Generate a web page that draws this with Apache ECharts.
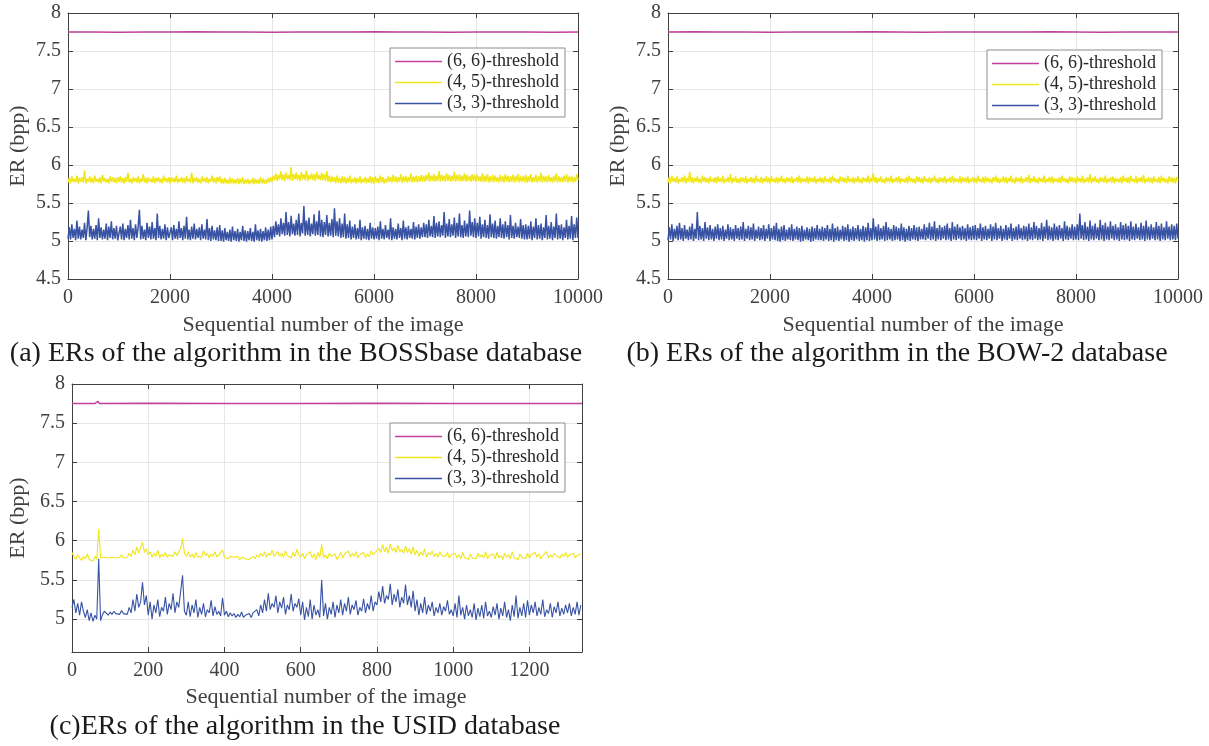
<!DOCTYPE html>
<html><head><meta charset="utf-8">
<script src="https://cdn.jsdelivr.net/npm/echarts@6/dist/echarts.min.js"></script>
<style>html,body{margin:0;padding:0;background:#fff}#c{width:1209px;height:746px}</style>
</head><body><div id="c"></div>
<script>
// ---------------- data ----------------
const legendNames = ['(6, 6)-threshold', '(4, 5)-threshold', '(3, 3)-threshold'];
const captions = ['(a) ERs of the algorithm in the BOSSbase database', '(b) ERs of the algorithm in the BOW-2 database', '(c)ERs of the algorithm in the USID database'];
const xTitle = 'Sequential number of the image';
const yTitle = 'ER (bpp)';

// (a) BOSSbase, 10000 images, sampled every 25 images
const stepAB = 25;
const pinkStepAB = 500;
const pinkA = [7.75,7.75,7.748,7.75,7.75,7.752,7.75,7.75,7.748,7.75,7.75,7.75,7.752,7.75,7.75,7.748,7.75,7.75,7.75,7.748,7.75];
const yellowA = [
5.77,5.83,5.76,5.85,5.78,5.82,5.77,5.86,5.76,5.83,5.78,5.84,5.77,5.93,5.76,5.82,5.78,5.85,5.77,5.83,5.76,5.86,5.78,5.82,5.77,5.84,5.76,5.87,5.78,5.83,5.77,5.82,5.76,5.85,5.78,5.84,5.77,5.83,5.76,5.84,
5.78,5.85,5.77,5.83,5.76,5.84,5.78,5.90,5.77,5.82,5.76,5.84,5.78,5.83,5.77,5.85,5.76,5.82,5.78,5.88,5.77,5.83,5.76,5.84,5.78,5.82,5.77,5.85,5.76,5.83,5.78,5.84,5.77,5.82,5.76,5.86,5.78,5.83,5.77,5.84,
5.76,5.84,5.78,5.83,5.77,5.86,5.76,5.82,5.78,5.84,5.77,5.83,5.76,5.85,5.78,5.82,5.77,5.90,5.76,5.83,5.78,5.84,5.77,5.82,5.76,5.85,5.78,5.83,5.77,5.84,5.76,5.82,5.78,5.86,5.77,5.83,5.76,5.84,5.78,5.85,
5.76,5.82,5.75,5.83,5.76,5.81,5.75,5.84,5.76,5.82,5.75,5.81,5.76,5.83,5.75,5.82,5.76,5.84,5.75,5.81,5.76,5.82,5.75,5.80,5.76,5.83,5.75,5.82,5.76,5.81,5.75,5.84,5.76,5.82,5.75,5.81,5.76,5.83,5.77,5.84,
5.78,5.86,5.80,5.89,5.79,5.87,5.81,5.92,5.80,5.88,5.79,5.90,5.81,5.87,5.80,5.97,5.79,5.88,5.81,5.90,5.80,5.87,5.79,5.91,5.81,5.88,5.80,5.93,5.79,5.87,5.81,5.89,5.80,5.88,5.79,5.91,5.81,5.87,5.80,5.90,
5.80,5.88,5.79,5.92,5.78,5.86,5.77,5.85,5.78,5.84,5.76,5.86,5.77,5.83,5.76,5.85,5.77,5.84,5.76,5.83,5.77,5.86,5.76,5.82,5.77,5.84,5.76,5.83,5.77,5.85,5.76,5.82,5.77,5.84,5.76,5.83,5.77,5.85,5.76,5.84,
5.76,5.85,5.77,5.83,5.76,5.86,5.77,5.84,5.76,5.82,5.77,5.85,5.78,5.84,5.77,5.87,5.78,5.85,5.77,5.84,5.78,5.88,5.77,5.85,5.78,5.86,5.77,5.84,5.78,5.89,5.77,5.85,5.78,5.86,5.77,5.85,5.78,5.87,5.78,5.86,
5.78,5.87,5.79,5.90,5.78,5.86,5.79,5.88,5.78,5.86,5.79,5.92,5.78,5.87,5.79,5.86,5.78,5.89,5.79,5.87,5.78,5.86,5.79,5.91,5.78,5.87,5.79,5.88,5.78,5.86,5.79,5.89,5.78,5.87,5.79,5.86,5.78,5.88,5.79,5.87,
5.78,5.87,5.79,5.85,5.78,5.89,5.77,5.86,5.78,5.88,5.77,5.85,5.78,5.87,5.77,5.86,5.78,5.84,5.77,5.87,5.78,5.85,5.77,5.88,5.78,5.86,5.77,5.85,5.78,5.87,5.77,5.86,5.78,5.88,5.77,5.85,5.78,5.86,5.77,5.87,
5.77,5.85,5.78,5.88,5.77,5.84,5.78,5.87,5.77,5.85,5.78,5.90,5.77,5.86,5.78,5.85,5.77,5.87,5.78,5.84,5.77,5.86,5.78,5.89,5.77,5.85,5.78,5.84,5.77,5.86,5.78,5.88,5.77,5.85,5.78,5.86,5.77,5.84,5.78,5.88,
5.80];
const blueA = [
5.03,5.18,5.02,5.22,5.04,5.16,5.01,5.27,5.03,5.19,5.02,5.15,5.04,5.24,5.01,5.17,5.40,5.05,5.20,5.02,5.16,5.03,5.21,5.01,5.30,5.04,5.18,5.02,5.15,5.03,5.23,5.01,5.19,5.04,5.26,5.02,5.17,5.03,5.20,5.01,
5.03,5.19,5.02,5.23,5.01,5.16,5.04,5.21,5.02,5.28,5.03,5.17,5.01,5.22,5.04,5.18,5.41,5.02,5.20,5.03,5.15,5.01,5.24,5.04,5.19,5.02,5.25,5.03,5.17,5.01,5.36,5.04,5.20,5.02,5.16,5.03,5.22,5.01,5.18,5.04,
5.02,5.18,5.01,5.21,5.03,5.16,5.02,5.26,5.04,5.17,5.01,5.20,5.03,5.32,5.02,5.15,5.01,5.19,5.03,5.23,5.02,5.16,5.04,5.18,5.01,5.22,5.03,5.15,5.02,5.29,5.01,5.17,5.00,5.20,5.02,5.14,5.01,5.18,5.00,5.21,
5.00,5.14,4.99,5.17,5.01,5.12,5.00,5.15,4.99,5.19,5.01,5.13,5.00,5.16,4.99,5.12,5.01,5.20,5.00,5.14,4.99,5.13,5.01,5.17,5.00,5.12,4.99,5.22,5.01,5.14,5.00,5.16,4.99,5.13,5.01,5.18,5.00,5.15,5.01,5.19,
5.02,5.20,5.05,5.26,5.08,5.22,5.06,5.30,5.09,5.24,5.07,5.38,5.08,5.25,5.06,5.33,5.09,5.23,5.07,5.28,5.08,5.36,5.06,5.24,5.10,5.46,5.07,5.27,5.08,5.31,5.06,5.23,5.09,5.35,5.07,5.26,5.08,5.40,5.06,5.28,
5.05,5.25,5.08,5.34,5.06,5.24,5.07,5.29,5.05,5.43,5.07,5.26,5.06,5.30,5.04,5.23,5.05,5.36,5.03,5.22,5.04,5.27,5.02,5.19,5.04,5.22,5.02,5.17,5.03,5.28,5.01,5.18,5.03,5.20,5.02,5.16,5.01,5.24,5.03,5.18,
5.02,5.17,5.03,5.19,5.01,5.26,5.03,5.16,5.02,5.21,5.04,5.15,5.02,5.30,5.01,5.18,5.03,5.16,5.02,5.23,5.04,5.17,5.01,5.27,5.03,5.18,5.02,5.20,5.04,5.16,5.03,5.25,5.02,5.19,5.04,5.22,5.03,5.18,5.05,5.24,
5.05,5.22,5.04,5.28,5.06,5.20,5.05,5.33,5.04,5.24,5.06,5.26,5.05,5.21,5.07,5.38,5.04,5.23,5.06,5.29,5.05,5.22,5.07,5.31,5.04,5.24,5.06,5.36,5.05,5.21,5.04,5.27,5.06,5.23,5.05,5.40,5.07,5.25,5.05,5.30,
5.04,5.24,5.06,5.32,5.03,5.22,5.05,5.28,5.04,5.21,5.03,5.35,5.05,5.23,5.04,5.27,5.03,5.20,5.05,5.30,5.04,5.22,5.03,5.26,5.05,5.21,5.02,5.34,5.04,5.20,5.03,5.24,5.05,5.19,5.04,5.29,5.03,5.21,5.02,5.22,
5.02,5.20,5.03,5.26,5.01,5.19,5.04,5.30,5.02,5.21,5.03,5.23,5.01,5.18,5.04,5.34,5.02,5.20,5.03,5.25,5.01,5.19,5.04,5.36,5.02,5.21,5.03,5.22,5.01,5.18,5.04,5.28,5.02,5.20,5.03,5.33,5.01,5.22,5.04,5.31,
5.04];

// (b) BOW-2, 10000 images, sampled every 25 images
const pinkB = [7.75,7.752,7.75,7.75,7.748,7.75,7.75,7.75,7.752,7.75,7.748,7.75,7.75,7.75,7.75,7.752,7.75,7.748,7.75,7.75,7.75];
const yellowB = [
5.77,5.84,5.76,5.86,5.78,5.83,5.77,5.85,5.76,5.82,5.78,5.84,5.77,5.86,5.76,5.83,5.78,5.91,5.77,5.84,5.76,5.83,5.78,5.85,5.77,5.82,5.76,5.86,5.78,5.84,5.77,5.83,5.76,5.85,5.78,5.82,5.77,5.84,5.76,5.85,
5.78,5.83,5.77,5.86,5.76,5.82,5.78,5.84,5.77,5.88,5.76,5.83,5.78,5.85,5.77,5.82,5.76,5.84,5.78,5.83,5.77,5.85,5.76,5.82,5.78,5.84,5.77,5.83,5.76,5.86,5.78,5.82,5.77,5.84,5.76,5.83,5.78,5.85,5.77,5.83,
5.76,5.85,5.78,5.82,5.77,5.84,5.76,5.83,5.78,5.86,5.77,5.82,5.76,5.84,5.78,5.83,5.77,5.85,5.76,5.82,5.78,5.84,5.77,5.86,5.76,5.83,5.78,5.82,5.77,5.85,5.76,5.84,5.78,5.83,5.77,5.85,5.76,5.82,5.78,5.84,
5.77,5.83,5.76,5.85,5.78,5.82,5.77,5.84,5.76,5.86,5.78,5.83,5.77,5.82,5.76,5.85,5.78,5.84,5.77,5.83,5.76,5.86,5.78,5.82,5.77,5.84,5.76,5.83,5.78,5.85,5.77,5.82,5.76,5.84,5.78,5.83,5.77,5.86,5.76,5.83,
5.78,5.89,5.77,5.84,5.76,5.83,5.78,5.85,5.77,5.82,5.76,5.84,5.78,5.83,5.77,5.86,5.76,5.82,5.78,5.84,5.77,5.85,5.76,5.83,5.78,5.82,5.77,5.84,5.76,5.86,5.78,5.83,5.77,5.82,5.76,5.85,5.78,5.84,5.77,5.83,
5.76,5.85,5.78,5.82,5.77,5.84,5.76,5.83,5.78,5.86,5.77,5.82,5.76,5.84,5.78,5.83,5.77,5.85,5.76,5.82,5.78,5.84,5.77,5.86,5.76,5.83,5.78,5.82,5.77,5.85,5.76,5.84,5.78,5.83,5.77,5.85,5.76,5.82,5.78,5.84,
5.77,5.83,5.76,5.86,5.78,5.82,5.77,5.84,5.76,5.85,5.78,5.83,5.77,5.82,5.76,5.84,5.78,5.86,5.77,5.83,5.76,5.82,5.78,5.85,5.77,5.84,5.76,5.83,5.78,5.86,5.77,5.82,5.76,5.84,5.78,5.83,5.77,5.85,5.76,5.82,
5.78,5.84,5.77,5.87,5.76,5.83,5.78,5.85,5.77,5.82,5.76,5.84,5.78,5.83,5.77,5.86,5.76,5.82,5.78,5.84,5.77,5.85,5.76,5.83,5.78,5.82,5.77,5.84,5.76,5.86,5.78,5.83,5.77,5.82,5.76,5.85,5.78,5.84,5.77,5.83,
5.76,5.85,5.78,5.83,5.77,5.86,5.76,5.82,5.78,5.84,5.77,5.88,5.76,5.83,5.78,5.85,5.77,5.82,5.76,5.84,5.78,5.83,5.77,5.86,5.76,5.82,5.78,5.84,5.77,5.85,5.76,5.83,5.78,5.82,5.77,5.84,5.76,5.86,5.78,5.83,
5.77,5.84,5.76,5.86,5.78,5.82,5.77,5.85,5.76,5.83,5.78,5.84,5.77,5.87,5.76,5.82,5.78,5.84,5.77,5.83,5.76,5.85,5.78,5.82,5.77,5.84,5.76,5.86,5.78,5.83,5.77,5.82,5.76,5.85,5.78,5.84,5.77,5.83,5.76,5.84,
5.80];
const blueB = [
5.01,5.18,5.02,5.22,5.00,5.16,5.03,5.20,5.01,5.24,5.02,5.17,5.00,5.21,5.03,5.15,5.01,5.19,5.02,5.23,5.00,5.16,5.03,5.38,5.01,5.20,5.02,5.17,5.00,5.25,5.03,5.18,5.01,5.21,5.02,5.16,5.00,5.19,5.03,5.22,
5.01,5.17,5.02,5.20,5.00,5.15,5.03,5.22,5.01,5.18,5.02,5.16,5.00,5.21,5.03,5.17,5.01,5.19,5.02,5.25,5.00,5.16,5.03,5.20,5.01,5.18,5.02,5.23,5.00,5.15,5.03,5.19,5.01,5.17,5.02,5.21,5.00,5.16,5.03,5.22,
5.00,5.17,5.02,5.20,5.01,5.24,5.00,5.16,4.99,5.19,5.01,5.21,5.00,5.15,5.02,5.18,5.01,5.22,5.00,5.16,5.02,5.19,5.01,5.17,4.99,5.20,5.00,5.15,5.02,5.18,5.01,5.16,4.99,5.19,5.00,5.17,5.02,5.21,5.01,5.16,
5.01,5.19,5.00,5.17,5.02,5.21,5.00,5.16,5.01,5.23,4.99,5.17,5.01,5.19,5.00,5.15,5.02,5.20,5.00,5.18,5.01,5.22,4.99,5.16,5.01,5.19,5.00,5.17,5.02,5.21,5.00,5.16,5.01,5.20,4.99,5.18,5.01,5.24,5.00,5.17,
5.01,5.30,5.02,5.19,5.00,5.22,5.01,5.17,5.02,5.20,5.00,5.25,5.01,5.18,5.02,5.16,5.00,5.21,5.01,5.19,5.02,5.17,5.00,5.23,5.01,5.18,4.99,5.16,5.01,5.20,5.00,5.17,5.02,5.21,5.01,5.18,5.00,5.19,5.02,5.16,
5.02,5.22,5.01,5.18,5.03,5.24,5.01,5.19,5.02,5.26,5.00,5.17,5.02,5.21,5.01,5.18,5.03,5.20,5.01,5.23,5.02,5.17,5.00,5.25,5.02,5.19,5.01,5.22,5.03,5.18,5.01,5.20,5.02,5.17,5.00,5.22,5.02,5.18,5.01,5.20,
5.02,5.21,5.01,5.17,5.03,5.23,5.00,5.18,5.02,5.20,5.01,5.16,5.03,5.22,5.00,5.19,5.02,5.24,5.01,5.17,5.03,5.20,5.00,5.16,5.02,5.21,5.01,5.18,5.03,5.23,5.00,5.17,5.02,5.19,5.01,5.22,5.03,5.17,5.01,5.20,
5.02,5.19,5.00,5.23,5.02,5.18,5.01,5.25,5.03,5.20,5.01,5.17,5.02,5.24,5.00,5.19,5.03,5.28,5.01,5.20,5.02,5.18,5.00,5.23,5.02,5.19,5.01,5.21,5.03,5.17,5.00,5.26,5.02,5.20,5.01,5.18,5.03,5.22,5.01,5.19,
5.02,5.22,5.01,5.36,5.03,5.21,5.01,5.25,5.02,5.19,5.00,5.27,5.02,5.20,5.01,5.23,5.03,5.18,5.01,5.28,5.02,5.21,5.00,5.24,5.02,5.19,5.01,5.26,5.03,5.20,5.01,5.22,5.02,5.18,5.00,5.25,5.02,5.21,5.01,5.23,
5.02,5.20,5.00,5.26,5.02,5.19,5.01,5.23,5.03,5.18,5.01,5.24,5.02,5.20,5.00,5.27,5.02,5.19,5.01,5.22,5.03,5.18,5.01,5.25,5.02,5.20,5.00,5.23,5.02,5.18,5.01,5.26,5.03,5.19,5.01,5.22,5.02,5.20,5.01,5.23,
5.03];

// (c) USID, 1338 images, sampled every 5 images
const stepC = 5;
const nImagesC = 1338;
const pinkC = [[0,7.75],[60,7.75],[68,7.78],[72,7.75],[200,7.755],[400,7.75],[600,7.75],[800,7.755],[1000,7.75],[1200,7.75],[1338,7.75]];
const yellowC = [
5.85,5.80,5.76,5.82,5.78,5.75,5.80,5.77,5.83,5.76,5.78,5.74,5.80,5.76,6.15,5.78,5.80,5.79,5.81,5.78,
5.80,5.79,5.81,5.78,5.80,5.79,5.82,5.78,5.80,5.79,5.84,5.80,5.88,5.82,5.92,5.84,5.86,5.98,5.85,5.90,
5.82,5.86,5.79,5.84,5.80,5.88,5.78,5.83,5.80,5.85,5.79,5.82,5.84,5.80,5.86,5.81,5.83,5.90,6.03,5.84,
5.80,5.86,5.79,5.83,5.78,5.85,5.80,5.82,5.79,5.87,5.81,5.84,5.78,5.83,5.80,5.86,5.79,5.82,5.80,5.88,
5.79,5.81,5.77,5.80,5.78,5.79,5.77,5.80,5.76,5.79,5.78,5.77,5.79,5.76,5.78,5.80,5.77,5.82,5.79,5.84,
5.80,5.86,5.79,5.84,5.81,5.88,5.80,5.83,5.86,5.80,5.84,5.79,5.87,5.81,5.83,5.78,5.85,5.80,5.89,5.82,
5.79,5.84,5.77,5.82,5.80,5.86,5.78,5.83,5.76,5.85,5.79,5.95,5.78,5.82,5.77,5.84,5.80,5.78,5.83,5.76,
5.80,5.85,5.78,5.83,5.81,5.87,5.79,5.84,5.80,5.86,5.78,5.82,5.81,5.85,5.79,5.83,5.80,5.87,5.82,5.85,
5.83,5.90,5.85,5.95,5.86,5.92,5.84,5.96,5.87,5.91,5.85,5.94,5.86,5.89,5.84,5.93,5.85,5.90,5.83,5.92,
5.82,5.88,5.80,5.86,5.81,5.90,5.79,5.85,5.82,5.87,5.80,5.84,5.79,5.86,5.81,5.83,5.80,5.85,5.78,5.82,
5.80,5.84,5.78,5.82,5.77,5.85,5.79,5.81,5.76,5.83,5.78,5.80,5.77,5.84,5.79,5.82,5.78,5.86,5.77,5.81,
5.79,5.83,5.77,5.85,5.78,5.81,5.76,5.84,5.79,5.82,5.77,5.86,5.78,5.80,5.76,5.83,5.79,5.81,5.77,5.84,
5.78,5.82,5.80,5.85,5.79,5.83,5.77,5.81,5.80,5.86,5.78,5.82,5.79,5.84,5.81,5.80,5.78,5.83,5.80,5.85,
5.79,5.82,5.80,5.84,5.78,5.81,5.80,5.83];
const blueC = [
5.15,5.25,5.08,5.20,5.05,5.22,5.10,5.02,5.12,4.98,5.08,4.97,5.05,5.00,5.77,4.98,5.06,5.10,5.08,5.05,
5.09,5.06,5.10,5.07,5.08,5.06,5.11,5.07,5.09,5.06,5.15,5.08,5.25,5.10,5.32,5.15,5.22,5.47,5.18,5.30,
5.05,5.22,5.00,5.18,5.08,5.25,5.03,5.15,5.10,5.28,5.06,5.20,5.12,5.33,5.08,5.22,5.15,5.35,5.56,5.10,
5.05,5.22,5.03,5.18,5.08,5.25,5.02,5.15,5.06,5.20,5.03,5.12,5.08,5.24,5.04,5.16,5.06,5.10,5.04,5.27,
5.05,5.10,5.03,5.08,5.04,5.07,5.02,5.06,5.03,5.09,5.02,5.05,5.04,5.07,5.02,5.08,5.06,5.12,5.04,5.18,
5.08,5.25,5.10,5.33,5.12,5.20,5.15,5.30,5.08,5.22,5.14,5.28,5.06,5.18,5.12,5.32,5.10,5.20,5.15,5.26,
5.05,5.22,4.99,5.15,5.03,5.25,5.00,5.18,5.05,5.12,5.02,5.50,5.04,5.20,5.00,5.15,5.06,5.22,5.02,5.18,
5.08,5.25,5.05,5.20,5.10,5.28,5.06,5.18,5.12,5.24,5.05,5.15,5.10,5.26,5.08,5.20,5.12,5.30,5.10,5.22,
5.18,5.35,5.22,5.42,5.20,5.30,5.25,5.45,5.18,5.32,5.22,5.38,5.15,5.28,5.20,5.44,5.18,5.30,5.15,5.36,
5.10,5.25,5.05,5.20,5.08,5.28,5.06,5.18,5.10,5.22,5.04,5.15,5.08,5.20,5.05,5.16,5.10,5.24,5.06,5.12,
5.04,5.20,5.02,5.30,5.05,5.15,5.00,5.18,5.04,5.12,5.02,5.20,4.99,5.14,5.03,5.18,5.01,5.22,5.04,5.10,
5.02,5.16,5.05,5.20,5.00,5.14,5.04,5.22,5.02,5.12,4.98,5.18,5.03,5.30,5.01,5.15,5.04,5.20,5.02,5.24,
5.05,5.18,5.08,5.22,5.04,5.15,5.06,5.25,5.03,5.12,5.07,5.20,5.02,5.16,5.08,5.22,5.04,5.14,5.06,5.18,
5.08,5.20,5.04,5.15,5.06,5.22,5.05,5.18];

// ---------------- chart ----------------
const PINK = '#c0409a', YELLOW = '#f0e619', BLUE = '#3852a4';
const AXC = '#404040', GRIDC = '#e6e6e6';
const FONT = '"Liberation Serif", "Times New Roman", serif';

const panels = [
  {grid:{left:68, top:13, width:510, height:266}, xMax:10000, xInt:2000, yMin:4.5, yInt:0.5, bandW:1.5,
   pink: pinkA.map((v,i)=>[i*pinkStepAB, v]), yellow: yellowA.map((v,i)=>[i*stepAB, v]), blue: blueA.map((v,i)=>[i*stepAB, v]),
   legend:{left:390, top:48}},
  {grid:{left:668, top:13, width:510, height:266}, xMax:10000, xInt:2000, yMin:4.5, yInt:0.5, bandW:1.5,
   pink: pinkB.map((v,i)=>[i*pinkStepAB, v]), yellow: yellowB.map((v,i)=>[i*stepAB, v]), blue: blueB.map((v,i)=>[i*stepAB, v]),
   legend:{left:987, top:50}},
  {grid:{left:72, top:384, width:510, height:268}, xMax:nImagesC, xInt:200, yMin:4.58, yInt:null, bandW:1.1,
   pink: pinkC, yellow: yellowC.map((v,i)=>[i*stepC, v]), blue: blueC.map((v,i)=>[i*stepC, v]),
   legend:{left:390, top:423}}
];

const grids = [], xAxes = [], yAxes = [], series = [], legends = [];
const tickLabel = {fontFamily: FONT, fontSize: 20, color: AXC};
panels.forEach((p, k) => {
  grids.push(Object.assign({containLabel:false}, p.grid));
  const xBase = {gridIndex:k, type:'value', min:0, max:p.xMax, interval:p.xInt};
  xAxes.push(Object.assign({}, xBase, {position:'bottom',
    axisLine:{show:true, onZero:false, lineStyle:{color:AXC, width:1}},
    axisTick:{show:true, inside:true, length:5, lineStyle:{color:AXC}},
    axisLabel:Object.assign({margin:9, showMaxLabel: p.xMax % p.xInt === 0, formatter: v => String(v)}, tickLabel),
    splitLine:{show:true, lineStyle:{color:GRIDC, width:1}}}));
  xAxes.push(Object.assign({}, xBase, {position:'top',
    axisLine:{show:true, onZero:false, lineStyle:{color:AXC, width:1}},
    axisTick:{show:true, inside:true, length:5, lineStyle:{color:AXC}},
    axisLabel:{show:false}, splitLine:{show:false}}));
  const yBase = {gridIndex:k, type:'value', min:p.yMin, max:8};
  if (p.yInt) yBase.interval = p.yInt; else yBase.splitNumber = 7;
  yAxes.push(Object.assign({}, yBase, {position:'left',
    axisLine:{show:true, onZero:false, lineStyle:{color:AXC, width:1}},
    axisTick:{show:true, inside:true, length:5, lineStyle:{color:AXC}},
    axisLabel:Object.assign({margin:7, showMinLabel: !!p.yInt, formatter: v => String(v)}, tickLabel),
    splitLine:{show:true, lineStyle:{color:GRIDC, width:1}}}));
  yAxes.push(Object.assign({}, yBase, {position:'right',
    axisLine:{show:true, onZero:false, lineStyle:{color:AXC, width:1}},
    axisTick:{show:true, inside:true, length:5, lineStyle:{color:AXC}},
    axisLabel:{show:false}, splitLine:{show:false}}));
  const common = {type:'line', xAxisIndex:2*k, yAxisIndex:2*k, showSymbol:false, symbol:'none', sampling:null, animation:false, silent:true};
  series.push(Object.assign({}, common, {name:legendNames[0], data:p.pink, z:3, itemStyle:{color:PINK}, lineStyle:{color:PINK, width:1.5}}));
  series.push(Object.assign({}, common, {name:legendNames[1], data:p.yellow, z:3, itemStyle:{color:YELLOW}, lineStyle:{color:YELLOW, width:p.bandW}}));
  series.push(Object.assign({}, common, {name:legendNames[2], data:p.blue, z:3, itemStyle:{color:BLUE}, lineStyle:{color:BLUE, width:p.bandW}}));
  legends.push({left:p.legend.left, top:p.legend.top, orient:'vertical', icon:'rect', itemWidth:47, itemHeight:1.5,
    itemGap:0, padding:[3,6,3,5], borderColor:'#8c8c8c', borderWidth:1, backgroundColor:'#ffffff', z:10,
    selectedMode:false, data:legendNames,
    textStyle:{fontFamily:FONT, fontSize:18, color:'#262626', lineHeight:21}});
});

const graphics = [];
function txt(x, y, text, size, color, rot) {
  graphics.push({type:'text', x:x, y:y, rotation:rot||0, silent:true,
    style:{text:text, font: size + 'px ' + FONT, fill:color, align:'center', verticalAlign:'middle'}});
}
txt(18, 146, yTitle, 22, AXC, Math.PI/2);
txt(618, 146, yTitle, 22, AXC, Math.PI/2);
txt(18, 518, yTitle, 22, AXC, Math.PI/2);
txt(323, 325, xTitle, 22, AXC);
txt(923, 325, xTitle, 22, AXC);
txt(326, 697, xTitle, 22, AXC);
txt(296, 354, captions[0], 28, '#1a1a1a');
txt(897, 354, captions[1], 28, '#1a1a1a');
txt(305, 727, captions[2], 28, '#1a1a1a');

const chart = echarts.init(document.getElementById('c'), null, {renderer:'canvas'});
chart.setOption({
  animation:false, backgroundColor:'#ffffff',
  grid:grids, xAxis:xAxes, yAxis:yAxes, series:series, legend:legends, graphic:graphics
});
</script>
</body></html>
